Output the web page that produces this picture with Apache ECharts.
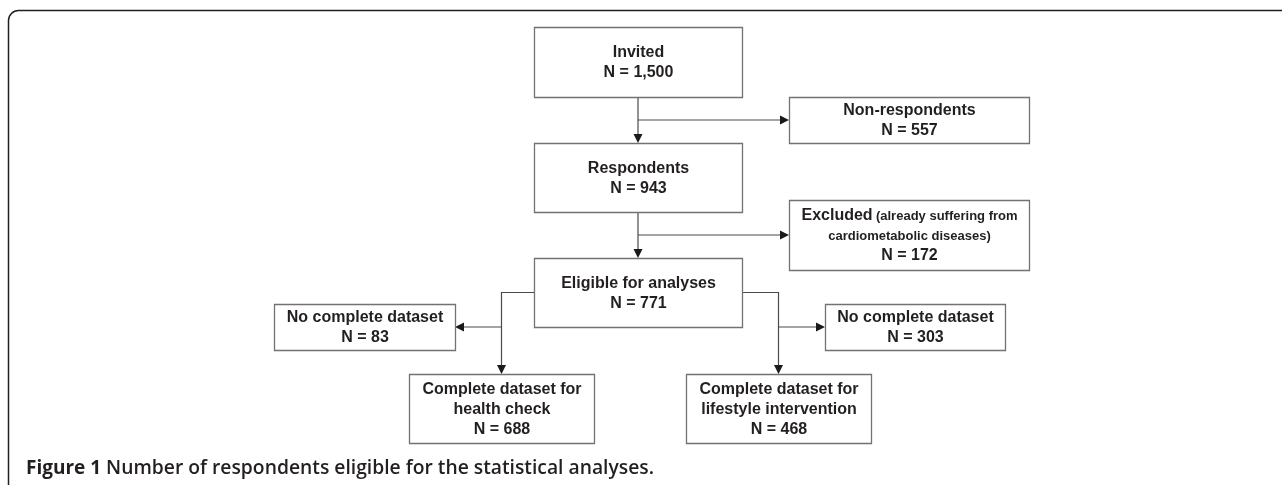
<!DOCTYPE html>
<html>
<head>
<meta charset="utf-8">
<script src="https://cdn.jsdelivr.net/npm/echarts@6/dist/echarts.min.js"></script>
<style>
  html, body { margin: 0; padding: 0; background: #fff; }
  #chart { width: 1282px; height: 485px; }
</style>
</head>
<body>
<div id="chart"></div>
<script>
// steps of the flow and the number of people in each
var stepTitles = ['Invited', 'Non-respondents', 'Respondents', 'Excluded', 'Eligible for analyses',
  'No complete dataset', 'No complete dataset', 'Complete dataset for\nhealth check', 'Complete dataset for\nlifestyle intervention']
var stepNotes = ['', '', '', '(already suffering from\ncardiometabolic diseases)', '', '', '', '', '']
var stepCounts = [1500, 557, 943, 172, 771, 83, 303, 688, 468]

// arrows between steps; linkVia = link whose vertical trunk the arrow branches off (-1 = none)
var linkFrom = [0, 0, 2, 2, 4, 4, 4, 4]
var linkTo = [2, 1, 4, 3, 7, 5, 8, 6]
var linkVia = [-1, 0, -1, 2, -1, 4, -1, 6]

var caption = 'Number of respondents eligible for the statistical analyses.'

// box layout, in units of the hidden axes (1 unit = 1px)
var boxLeft = [534, 789, 534, 789, 534, 274, 825, 409, 686]
var boxRight = [742, 1029, 742, 1029, 742, 455, 1005, 594, 871]
var boxTop = [27, 97, 143, 200, 258, 304, 304, 374, 374]
var boxBottom = [97, 143, 212, 270, 327, 350, 350, 443, 443]

var textColor = '#231f20'
var boxColor = '#727272'
var lineColor = '#4a4a4a'

function cx (i) { return (boxLeft[i] + boxRight[i]) / 2 }
function cy (i) { return (boxTop[i] + boxBottom[i]) / 2 }

function linkPath (k) {
  var a = linkFrom[k]
  var b = linkTo[k]
  if (linkVia[k] >= 0) {
    var tx = cx(linkTo[linkVia[k]])
    var ex = cx(b) > tx ? boxLeft[b] : boxRight[b]
    return [[tx, cy(b)], [ex, cy(b)]]
  }
  if (cx(a) >= boxLeft[b] && cx(a) <= boxRight[b]) {
    return [[cx(a), boxBottom[a]], [cx(a), boxTop[b]]]
  }
  var sx = cx(b) < boxLeft[a] ? boxLeft[a] : boxRight[a]
  return [[sx, cy(a)], [cx(b), cy(a)], [cx(b), boxTop[b]]]
}

function boxText (i) {
  var lines = stepTitles[i].split('\n').map(function (s) { return '{t|' + s + '}' })
  var notes = stepNotes[i] ? stepNotes[i].split('\n') : []
  if (notes.length) {
    lines[lines.length - 1] += ' {s|' + notes[0] + '}'
    notes.slice(1).forEach(function (s) { lines.push('{s|' + s + '}') })
  }
  lines.push('{t|N = ' + stepCounts[i].toLocaleString('en-US') + '}')
  return lines.join('\n')
}

var boxData = stepTitles.map(function (t, i) {
  return [boxLeft[i], boxTop[i], boxRight[i], boxBottom[i]]
})
var linkData = linkFrom.map(function (f, k) { return [k] })

var chart = echarts.init(document.getElementById('chart'))
chart.setOption({
  animation: false,
  backgroundColor: '#fff',
  grid: { left: 0, right: 0, top: 0, bottom: 0 },
  xAxis: { type: 'value', min: 0, max: 1282, show: false },
  yAxis: { type: 'value', min: 0, max: 485, inverse: true, show: false },
  title: {
    text: '{b|Figure 1} ' + caption,
    left: 26,
    top: 457,
    padding: 0,
    textStyle: {
      fontFamily: 'Open Sans',
      fontSize: 19.3,
      fontWeight: 600,
      color: textColor,
      lineHeight: 24,
      rich: {
        b: { fontFamily: 'Open Sans', fontSize: 19, fontWeight: 'bold', color: textColor, lineHeight: 24 }
      }
    }
  },
  graphic: [{
    type: 'rect',
    z: -10,
    silent: true,
    shape: { x: 8.5, y: 10.5, width: 1400, height: 600, r: 10 },
    style: { fill: 'none', stroke: '#231f20', lineWidth: 1.5 }
  }],
  series: [{
    type: 'custom',
    name: 'links',
    silent: true,
    data: linkData,
    encode: { x: 0, y: 0 },
    renderItem: function (params, api) {
      var pts = linkPath(params.dataIndex).map(function (p) { return api.coord(p) })
      var n = pts.length
      var tip = pts[n - 1]
      var prev = pts[n - 2]
      var dx = tip[0] - prev[0]
      var dy = tip[1] - prev[1]
      var len = Math.sqrt(dx * dx + dy * dy)
      dx /= len; dy /= len
      var L = 9, W = 4.5
      var bx = tip[0] - dx * L
      var by = tip[1] - dy * L
      var head = [tip, [bx - dy * W, by + dx * W], [bx + dy * W, by - dx * W]]
      return {
        type: 'group',
        children: [{
          type: 'polyline',
          shape: { points: pts.slice(0, n - 1).concat([[bx, by]]) },
          style: { stroke: lineColor, lineWidth: 1.2, fill: null }
        }, {
          type: 'polygon',
          shape: { points: head },
          style: { fill: '#1a1a1a' }
        }]
      }
    }
  }, {
    type: 'custom',
    name: 'steps',
    silent: true,
    data: boxData,
    encode: { x: [0, 2], y: [1, 3] },
    renderItem: function (params, api) {
      var i = params.dataIndex
      var p0 = api.coord([api.value(0), api.value(1)])
      var p1 = api.coord([api.value(2), api.value(3)])
      return {
        type: 'group',
        children: [{
          type: 'rect',
          shape: { x: p0[0] + 0.5, y: p0[1] + 0.5, width: p1[0] - p0[0], height: p1[1] - p0[1] },
          style: { fill: '#fff', stroke: boxColor, lineWidth: 1.3 }
        }, {
          type: 'text',
          style: {
            text: boxText(i),
            x: (p0[0] + p1[0]) / 2 + 0.5,
            y: (p0[1] + p1[1]) / 2 + 1,
            align: 'center',
            verticalAlign: 'middle',
            fill: textColor,
            rich: {
              t: { fontFamily: 'Liberation Sans', fontSize: 16, fontWeight: 'bold', fill: textColor, lineHeight: 20 },
              s: { fontFamily: 'Liberation Sans', fontSize: 13, fontWeight: 'bold', fill: textColor, lineHeight: 20 }
            }
          }
        }]
      }
    }
  }]
})
</script>
</body>
</html>
